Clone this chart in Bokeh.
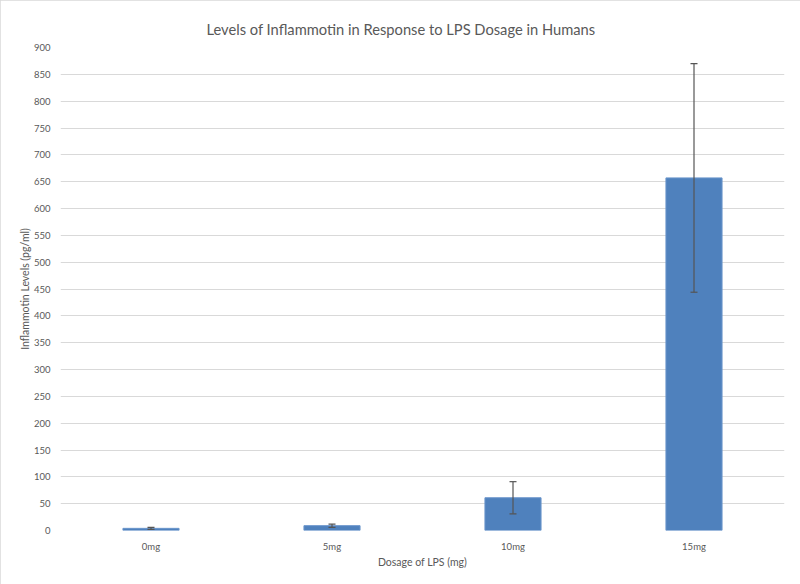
from bokeh.plotting import figure
from bokeh.models import ColumnDataSource, Whisker, FactorRange, Range1d, SingleIntervalTicker, TeeHead
from bokeh.embed import file_html
from bokeh.resources import INLINE

categories = ["0mg", "5mg", "10mg", "15mg"]
levels = [4, 9, 61, 657]
errors = [2, 3, 30, 213]

upper = [v + e for v, e in zip(levels, errors)]
lower = [v - e for v, e in zip(levels, errors)]
src = ColumnDataSource(dict(x=categories, top=levels, upper=upper, lower=lower))

FONT = "Lato"
GREY = "#595959"

p = figure(x_range=FactorRange(*categories, range_padding=0), y_range=Range1d(0, 900),
           frame_width=724, frame_height=483, output_backend="svg", toolbar_location=None,
           title="Levels of Inflammotin in Response to LPS Dosage in Humans",
           min_border_left=60, min_border_right=16, min_border_top=47, min_border_bottom=54)
p.styles = {"outline": "1px solid #D9D9D9", "outline-offset": "-1px"}
p.vbar(x="x", top="top", width=0.31, source=src, fill_color="#4F81BD",
       line_color="#6A95CB", line_width=1)
head_kw = dict(size=7, line_color="#555555", line_width=1.2)
w = Whisker(base="x", upper="upper", lower="lower", source=src, line_color="#555555",
            line_width=1.2, upper_head=TeeHead(**head_kw), lower_head=TeeHead(**head_kw),
            level="overlay")
p.add_layout(w)

p.title.align = "left"
p.title.offset = 146
p.title.standoff = 20
p.title.text_font = FONT
p.title.text_font_size = "14.7px"
p.title.text_font_style = "normal"
p.title.text_color = GREY

p.yaxis.ticker = SingleIntervalTicker(interval=50)
p.ygrid.grid_line_color = "#D9D9D9"
p.ygrid.grid_line_width = 1
p.xgrid.grid_line_color = None
p.outline_line_color = None

for ax in (p.xaxis, p.yaxis):
    ax.axis_line_color = None
    ax.major_tick_line_color = None
    ax.minor_tick_line_color = None
    ax.major_label_text_font = FONT
    ax.major_label_text_font_size = "9.5px"
    ax.major_label_text_color = GREY
    ax.axis_label_text_font = FONT
    ax.axis_label_text_font_size = "10.5px"
    ax.axis_label_text_font_style = "normal"
    ax.axis_label_text_color = GREY

p.xaxis.axis_label = "Dosage of LPS (mg)"
p.yaxis.axis_label = "Inflammotin Levels (pg/ml)"
p.xaxis.major_label_standoff = 4
p.xaxis.axis_label_standoff = 1
p.yaxis.major_label_standoff = 4
p.yaxis.axis_label_standoff = 0

open("out.html", "w").write(file_html(p, INLINE))
